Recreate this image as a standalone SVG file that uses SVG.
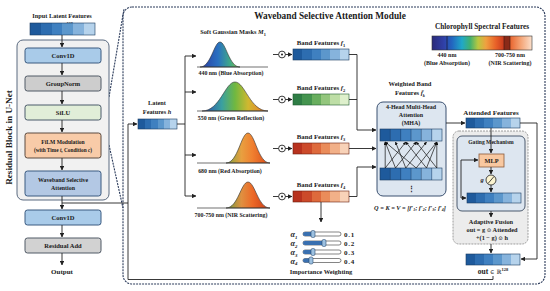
<svg xmlns="http://www.w3.org/2000/svg" width="550" height="291" viewBox="0 0 550 291">
<defs>
<style>
.t{font-family:"Liberation Serif","Times New Roman",serif;font-weight:bold;fill:#1a1a1a;text-anchor:middle}
.i{font-style:italic}
.m{font-family:"DejaVu Serif","Liberation Serif",serif;font-weight:normal}
.c{fill:none;stroke:#222;stroke-width:0.9}
.box{stroke:#3a5a80;stroke-width:1}
.base{stroke:#333;stroke-width:0.7}
.bell{stroke:#333;stroke-width:0.6}
.bar{stroke:#1a3a60;stroke-width:0.6}
.dash{fill:none;stroke:#2a3a5a;stroke-width:1.1;stroke-dasharray:2 1}
</style>
<marker id="ar" viewBox="0 0 10 10" refX="9" refY="5" markerWidth="4.5" markerHeight="4.5" orient="auto" markerUnits="userSpaceOnUse"><path d="M0,0 L10,5 L0,10 z" fill="#222"/></marker>
<marker id="ars" viewBox="0 0 10 10" refX="9" refY="5" markerWidth="3.2" markerHeight="3.2" orient="auto" markerUnits="userSpaceOnUse"><path d="M0,0 L10,5 L0,10 z" fill="#111"/></marker>
<linearGradient id="gBlue">
<stop offset="0" stop-color="#1e5a9c"/><stop offset=".1667" stop-color="#1e5a9c"/>
<stop offset=".1667" stop-color="#2d6db0"/><stop offset=".3333" stop-color="#2d6db0"/>
<stop offset=".3333" stop-color="#3f80c0"/><stop offset=".5" stop-color="#3f80c0"/>
<stop offset=".5" stop-color="#5c97cc"/><stop offset=".6667" stop-color="#5c97cc"/>
<stop offset=".6667" stop-color="#86b3dc"/><stop offset=".8333" stop-color="#86b3dc"/>
<stop offset=".8333" stop-color="#b6d3ec"/><stop offset="1" stop-color="#b6d3ec"/>
</linearGradient>
<linearGradient id="gGreen">
<stop offset="0" stop-color="#2e7d45"/><stop offset=".1667" stop-color="#2e7d45"/>
<stop offset=".1667" stop-color="#44944f"/><stop offset=".3333" stop-color="#44944f"/>
<stop offset=".3333" stop-color="#68ae5e"/><stop offset=".5" stop-color="#68ae5e"/>
<stop offset=".5" stop-color="#93c67d"/><stop offset=".6667" stop-color="#93c67d"/>
<stop offset=".6667" stop-color="#bedea6"/><stop offset=".8333" stop-color="#bedea6"/>
<stop offset=".8333" stop-color="#def0cc"/><stop offset="1" stop-color="#def0cc"/>
</linearGradient>
<linearGradient id="gRed">
<stop offset="0" stop-color="#b8321e"/><stop offset=".1667" stop-color="#b8321e"/>
<stop offset=".1667" stop-color="#cc4a2a"/><stop offset=".3333" stop-color="#cc4a2a"/>
<stop offset=".3333" stop-color="#de6a3c"/><stop offset=".5" stop-color="#de6a3c"/>
<stop offset=".5" stop-color="#ea8c5a"/><stop offset=".6667" stop-color="#ea8c5a"/>
<stop offset=".6667" stop-color="#f2b088"/><stop offset=".8333" stop-color="#f2b088"/>
<stop offset=".8333" stop-color="#f8d2b8"/><stop offset="1" stop-color="#f8d2b8"/>
</linearGradient>
<linearGradient id="gSpec">
<stop offset="0" stop-color="#2a2a7a"/>
<stop offset=".12" stop-color="#3040a8"/>
<stop offset=".2" stop-color="#2266c0"/>
<stop offset=".3" stop-color="#20a8c8"/>
<stop offset=".38" stop-color="#40b070"/>
<stop offset=".46" stop-color="#b8c840"/>
<stop offset=".54" stop-color="#f0a040"/>
<stop offset=".64" stop-color="#e86028"/>
<stop offset=".72" stop-color="#c83a1e"/>
<stop offset=".72" stop-color="#8a2a18"/>
<stop offset=".78" stop-color="#8a2a18"/>
<stop offset=".78" stop-color="#e8642e"/>
<stop offset=".88" stop-color="#f4a070"/>
<stop offset="1" stop-color="#fbe0cc"/>
</linearGradient>
<linearGradient id="gG1"><stop offset="0" stop-color="#2a3aa0"/><stop offset=".45" stop-color="#2a70c0"/><stop offset=".75" stop-color="#40a888"/><stop offset="1" stop-color="#80c040"/></linearGradient>
<linearGradient id="gG2"><stop offset="0" stop-color="#2a48b0"/><stop offset=".3" stop-color="#3aa0a0"/><stop offset=".5" stop-color="#70b840"/><stop offset=".7" stop-color="#d0b830"/><stop offset="1" stop-color="#f07028"/></linearGradient>
<linearGradient id="gG3"><stop offset="0" stop-color="#7aa040"/><stop offset=".35" stop-color="#e8a040"/><stop offset=".6" stop-color="#f08030"/><stop offset="1" stop-color="#d84818"/></linearGradient>
<linearGradient id="gG4"><stop offset="0" stop-color="#6a9c40"/><stop offset=".35" stop-color="#e09040"/><stop offset=".6" stop-color="#ec6a28"/><stop offset="1" stop-color="#c83814"/></linearGradient>
</defs>

<rect width="550" height="291" fill="#ffffff"/>

<!-- Module frame -->
<g id="module-frame">
<rect x="123" y="7" width="422" height="277" rx="9" class="dash"/>
<line x1="109" y1="97" x2="124" y2="9" class="dash"/>
<line x1="109" y1="145" x2="123" y2="208" class="dash"/>
<text class="t" x="330" y="19" font-size="9.3">Waveband Selective Attention Module</text>
</g>

<!-- Left residual block -->
<g id="input-features">
<text class="t" x="62" y="18" font-size="6.3">Input Latent Features</text>
<text class="t" x="62" y="27" font-size="6.3"><tspan class="i">h</tspan> <tspan class="m" font-size="5.5">∈</tspan> <tspan class="m" font-size="5.5">ℝ</tspan><tspan font-size="4.2" dy="-2.5">128</tspan></text>
<rect x="30" y="23" width="65" height="12" fill="url(#gBlue)" class="bar"/>
</g>
<g id="residual-block">
<rect x="17" y="40" width="92" height="160" rx="6" fill="#f1f1f1" stroke="#5a6a80" stroke-width="1"/>
<text class="t" transform="translate(11.5,137.5) rotate(-90)" font-size="9.2">Residual Block in U-Net</text>
</g>
<g id="conv1d-a"><rect x="25" y="48" width="76" height="15" rx="2.5" fill="#a9cbe9" class="box"/><text class="t" x="63" y="58" font-size="6.5">Conv1D</text></g>
<g id="groupnorm"><rect x="25" y="76" width="76" height="15" rx="2.5" fill="#cdcdcd" stroke="#505a66" stroke-width="1"/><text class="t" x="63" y="86" font-size="6.5">GroupNorm</text></g>
<g id="silu"><rect x="25" y="105" width="76" height="15" rx="2.5" fill="#e1eed8" stroke="#4a5a6a" stroke-width="1"/><text class="t" x="63" y="115" font-size="6.5">SiLU</text></g>
<g id="film"><rect x="25" y="133" width="76" height="25" rx="2.5" fill="#f8cba8" stroke="#5a4a40" stroke-width="1"/><text class="t" x="63" y="144" font-size="5.6">FiLM Modulation</text><text class="t" x="63" y="152" font-size="5.3">(with Time <tspan class="i">t</tspan>, Condition <tspan class="i">c</tspan>)</text></g>
<g id="wsa"><rect x="25" y="171" width="76" height="25" rx="2.5" fill="#b3c8e4" class="box"/><text class="t" x="63" y="182" font-size="5.9" fill="#1a2a4a">Waveband Selective</text><text class="t" x="63" y="190" font-size="5.9" fill="#1a2a4a">Attention</text></g>
<g id="conv1d-b"><rect x="25" y="210" width="76" height="15" rx="2.5" fill="#a9cbe9" class="box"/><text class="t" x="63" y="220" font-size="6.5">Conv1D</text></g>
<g id="residual-add"><rect x="25" y="238" width="76" height="15" rx="2.5" fill="#d2d2d2" stroke="#505a66" stroke-width="1"/><text class="t" x="63" y="248" font-size="6.5">Residual Add</text></g>
<g id="output"><text class="t" x="62" y="274" font-size="7">Output</text></g>

<!-- Spectrum legend -->
<g id="spectrum">
<text class="t" x="482" y="29" font-size="7.3">Chlorophyll Spectral Features</text>
<rect x="432" y="36" width="100" height="14" fill="url(#gSpec)" stroke="#333" stroke-width="0.6"/>
<line x1="447" y1="36" x2="447" y2="50" stroke="#1a1a3a" stroke-width="0.8"/>
<line x1="504" y1="36" x2="504" y2="50" stroke="#3a1a10" stroke-width="0.6"/>
<line x1="510" y1="36" x2="510" y2="50" stroke="#3a1a10" stroke-width="0.6"/>
<text class="t" x="447" y="57" font-size="6">440 nm</text>
<text class="t" x="447" y="65" font-size="6">(Blue Absorption)</text>
<text class="t" x="510" y="57" font-size="6">700-750 nm</text>
<text class="t" x="510" y="65" font-size="6">(NIR Scattering)</text>
</g>

<!-- Latent features -->
<g id="latent">
<text class="t" x="157" y="105" font-size="6.3">Latent</text>
<text class="t" x="157" y="114" font-size="6.3">Features <tspan class="i">h</tspan></text>
<rect x="138" y="119" width="39" height="10" fill="url(#gBlue)" class="bar"/>
</g>

<!-- Gaussian masks -->
<g id="masks-title"><text class="t" x="233" y="34" font-size="6.3">Soft Gaussian Masks <tspan class="i">M</tspan><tspan font-size="4.3" dy="1.5">1</tspan></text></g>
<g id="mask-440">
<path d="M200,67 C211,67 214,42 220,42 C226,42 229,67 240,67 Z" fill="url(#gG1)" class="bell"/>
<line x1="197" y1="67" x2="268" y2="67" class="base"/>
<text class="t" x="231" y="75" font-size="5.9">440 nm (Blue Absorption)</text>
</g>
<g id="mask-550">
<path d="M202,111 C220,111 225,82 235,82 C245,82 250,111 268,111 Z" fill="url(#gG2)" class="bell"/>
<line x1="197" y1="111" x2="268" y2="111" class="base"/>
<text class="t" x="231" y="120" font-size="5.9">550 nm (Green Reflection)</text>
</g>
<g id="mask-680">
<path d="M226,163 C238,163 241,133 248,133 C255,133 258,163 270,163 Z" fill="url(#gG3)" class="bell"/>
<line x1="197" y1="163" x2="270" y2="163" class="base"/>
<text class="t" x="230" y="173" font-size="5.9">680 nm (Red Absorption)</text>
</g>
<g id="mask-700">
<path d="M226,208 C238,208 241,182 248,182 C255,182 258,208 270,208 Z" fill="url(#gG4)" class="bell"/>
<line x1="197" y1="208" x2="270" y2="208" class="base"/>
<text class="t" x="231" y="217" font-size="5.9">700-750 nm (NIR Scattering)</text>
</g>

<!-- Element-wise product circles -->
<g id="odot-1"><circle cx="282" cy="54.5" r="3.4" fill="#fff" stroke="#222" stroke-width="0.9"/><circle cx="282" cy="54.5" r="1" fill="#222"/></g>
<g id="odot-2"><circle cx="282" cy="99.5" r="3.4" fill="#fff" stroke="#222" stroke-width="0.9"/><circle cx="282" cy="99.5" r="1" fill="#222"/></g>
<g id="odot-3"><circle cx="282" cy="148.5" r="3.4" fill="#fff" stroke="#222" stroke-width="0.9"/><circle cx="282" cy="148.5" r="1" fill="#222"/></g>
<g id="odot-4"><circle cx="282" cy="196.5" r="3.4" fill="#fff" stroke="#222" stroke-width="0.9"/><circle cx="282" cy="196.5" r="1" fill="#222"/></g>

<!-- Band features -->
<g id="band-f1"><text class="t" x="321" y="45" font-size="6.8">Band Features <tspan class="i">f</tspan><tspan font-size="4.5" dy="1.5">1</tspan></text><rect x="293" y="49" width="56" height="11" fill="url(#gBlue)" class="bar"/></g>
<g id="band-f2"><text class="t" x="321" y="90" font-size="6.8">Band Features <tspan class="i">f</tspan><tspan font-size="4.5" dy="1.5">2</tspan></text><rect x="293" y="94" width="56" height="11" fill="url(#gGreen)" stroke="#1e5a30" stroke-width="0.6"/></g>
<g id="band-f3"><text class="t" x="321" y="139" font-size="6.8">Band Features <tspan class="i">f</tspan><tspan font-size="4.5" dy="1.5">3</tspan></text><rect x="293" y="143" width="56" height="11" fill="url(#gRed)" stroke="#6a2010" stroke-width="0.6"/></g>
<g id="band-f4"><text class="t" x="321" y="187" font-size="6.8">Band Features <tspan class="i">f</tspan><tspan font-size="4.5" dy="1.5">4</tspan></text><rect x="293" y="191" width="56" height="11" fill="url(#gRed)" stroke="#6a2010" stroke-width="0.6"/></g>

<!-- Importance weighting -->
<g id="importance">
<text class="t i" x="294" y="237" font-size="8">α<tspan font-size="4.8" dy="1.5">1</tspan></text>
<text class="t i" x="294" y="246" font-size="8">α<tspan font-size="4.8" dy="1.5">2</tspan></text>
<text class="t i" x="294" y="255" font-size="8">α<tspan font-size="4.8" dy="1.5">3</tspan></text>
<text class="t i" x="294" y="263.5" font-size="8">α<tspan font-size="4.8" dy="1.5">4</tspan></text>
<rect x="303" y="232" width="38" height="4" rx="2" fill="#fff" stroke="#333" stroke-width="0.6"/>
<rect x="303" y="232" width="10" height="4" rx="2" fill="#3a70b0"/>
<rect x="311" y="230.5" width="4" height="7" rx="1.5" fill="#9cc0e0" stroke="#2a4a70" stroke-width="0.6"/>
<rect x="303" y="241" width="38" height="4" rx="2" fill="#fff" stroke="#333" stroke-width="0.6"/>
<rect x="303" y="241" width="21" height="4" rx="2" fill="#3a70b0"/>
<rect x="322" y="239.5" width="4" height="7" rx="1.5" fill="#9cc0e0" stroke="#2a4a70" stroke-width="0.6"/>
<rect x="303" y="250" width="38" height="4" rx="2" fill="#fff" stroke="#333" stroke-width="0.6"/>
<rect x="303" y="250" width="10" height="4" rx="2" fill="#3a70b0"/>
<rect x="311" y="248.5" width="4" height="7" rx="1.5" fill="#9cc0e0" stroke="#2a4a70" stroke-width="0.6"/>
<rect x="303" y="258.5" width="38" height="4" rx="2" fill="#fff" stroke="#333" stroke-width="0.6"/>
<rect x="303" y="258.5" width="8" height="4" rx="2" fill="#3a70b0"/>
<rect x="309" y="257" width="4" height="7" rx="1.5" fill="#9cc0e0" stroke="#2a4a70" stroke-width="0.6"/>
<text class="t" x="344" y="237" font-size="7" letter-spacing="0.8" style="text-anchor:start">0.1</text>
<text class="t" x="344" y="246" font-size="7" letter-spacing="0.8" style="text-anchor:start">0.2</text>
<text class="t" x="344" y="255" font-size="7" letter-spacing="0.8" style="text-anchor:start">0.3</text>
<text class="t" x="344" y="263.5" font-size="7" letter-spacing="0.8" style="text-anchor:start">0.4</text>
<text class="t" x="321" y="274" font-size="6.5">Importance Weighting</text>
</g>

<!-- MHA -->
<g id="mha">
<text class="t" x="410" y="86" font-size="6.5">Weighted Band</text>
<text class="t" x="410" y="95" font-size="6.5">Features <tspan class="i">f̃</tspan><tspan class="i" font-size="4.3" dy="1.5">k</tspan></text>
<rect x="377" y="102" width="69" height="94" rx="6" fill="#dde6f0" stroke="#3a5070" stroke-width="1"/>
<text class="t" x="411" y="109" font-size="6">4-Head Multi-Head</text>
<text class="t" x="411" y="117" font-size="6">Attention</text>
<text class="t" x="411" y="125" font-size="6">(MHA)</text>
<rect x="380" y="129" width="62" height="12" fill="url(#gBlue)" class="bar"/>
<path d="M390.3,129V141M400.7,129V141M411,129V141M421.3,129V141M431.7,129V141" stroke="#1a3a60" stroke-width="0.5"/>
<rect x="380" y="168" width="62" height="12" fill="url(#gBlue)" class="bar"/>
<path d="M390.3,168V180M400.7,168V180M411,168V180M421.3,168V180M431.7,168V180" stroke="#1a3a60" stroke-width="0.5"/>
<g stroke="#111" stroke-width="0.7" marker-end="url(#ars)">
<line x1="385.2" y1="168" x2="385.2" y2="142"/>
<line x1="385.2" y1="168" x2="405.8" y2="142"/>
<line x1="395.5" y1="168" x2="385.2" y2="142"/>
<line x1="395.5" y1="168" x2="416.2" y2="142"/>
<line x1="405.8" y1="168" x2="395.5" y2="142"/>
<line x1="405.8" y1="168" x2="426.5" y2="142"/>
<line x1="416.2" y1="168" x2="385.2" y2="142"/>
<line x1="416.2" y1="168" x2="436.8" y2="142"/>
<line x1="426.5" y1="168" x2="405.8" y2="142"/>
<line x1="426.5" y1="168" x2="436.8" y2="142"/>
<line x1="436.8" y1="168" x2="416.2" y2="142"/>
<line x1="436.8" y1="168" x2="436.8" y2="142"/>
</g>
<text class="t" x="411" y="191" font-size="7">⋮</text>
<text class="t i" x="410" y="210" font-size="6.3">Q = K = V = [f′<tspan font-size="4" dy="1.2">1</tspan><tspan dy="-1.2">; f′</tspan><tspan font-size="4" dy="1.2">2</tspan><tspan dy="-1.2">; f′</tspan><tspan font-size="4" dy="1.2">3</tspan><tspan dy="-1.2">; f′</tspan><tspan font-size="4" dy="1.2">4</tspan><tspan dy="-1.2">]</tspan></text>
</g>

<!-- Attended features and gating -->
<g id="attended">
<text class="t" x="491" y="115" font-size="7">Attended Features</text>
<rect x="466" y="118" width="54" height="10" fill="url(#gBlue)" class="bar"/>
</g>
<g id="gating">
<rect x="453" y="131" width="75" height="113" rx="6" fill="#ececec" stroke="#888" stroke-width="0.8" stroke-dasharray="2 1"/>
<rect x="457" y="136" width="68" height="75" rx="5" fill="#dde6f0" stroke="#3a4a60" stroke-width="0.9"/>
<text class="t" x="491" y="144" font-size="5.6">Gating Mechanism</text>
<rect x="479" y="154" width="25" height="13" fill="#f8c8a0" stroke="#8a5a3a" stroke-width="0.8"/>
<text class="t" x="491.5" y="163" font-size="6.3">MLP</text>
<circle cx="491" cy="180" r="5" fill="#fbf4d0" stroke="#333" stroke-width="0.9"/>
<line x1="488" y1="183.5" x2="494" y2="176.5" stroke="#333" stroke-width="0.9"/>
<text class="t i" x="482" y="182" font-size="6.5">g</text>
<rect x="467" y="193" width="54" height="10" fill="url(#gBlue)" class="bar"/>
<text class="t" x="491" y="224" font-size="6.3">Adaptive Fusion</text>
<text class="t" x="492" y="232" font-size="6.3">out = g <tspan class="m" font-size="5.5">⊙</tspan> Attended</text>
<text class="t" x="492" y="239.5" font-size="6.3">+(1 − g) <tspan class="m" font-size="5.5">⊙</tspan> h</text>
</g>
<g id="out">
<rect x="466" y="254" width="54" height="11" fill="url(#gBlue)" class="bar"/>
<text class="t" x="493" y="274" font-size="7.5">out <tspan class="m" font-size="6">∈</tspan> <tspan class="m" font-size="6">ℝ</tspan><tspan font-size="4.5" dy="-3">128</tspan></text>
</g>

<!-- Connectors -->
<g id="connectors">
<path class="c" d="M62,35V47" marker-end="url(#ar)"/>
<path class="c" d="M62,63V75" marker-end="url(#ar)"/>
<path class="c" d="M62,91V104" marker-end="url(#ar)"/>
<path class="c" d="M62,120V132" marker-end="url(#ar)"/>
<path class="c" d="M62,158V170" marker-end="url(#ar)"/>
<path class="c" d="M62,196V209" marker-end="url(#ar)"/>
<path class="c" d="M62,225V237" marker-end="url(#ar)"/>
<path class="c" d="M62,253V265" marker-end="url(#ar)"/>
<path class="c" d="M62,203H128V124H137" stroke="#333" stroke-width="1.1" marker-end="url(#ar)"/>
<path class="c" d="M128,203V279.5H493V276" stroke="#444" stroke-width="1.2"/>
<path class="c" d="M177,124H185"/>
<path class="c" d="M185,56V196"/>
<path class="c" d="M185,56H196" marker-end="url(#ar)"/>
<path class="c" d="M185,92H196" marker-end="url(#ar)"/>
<path class="c" d="M185,155H196" marker-end="url(#ar)"/>
<path class="c" d="M185,196H196" marker-end="url(#ar)"/>
<path class="c" d="M273,54.5H278.6"/>
<path class="c" d="M273,99.5H278.6"/>
<path class="c" d="M273,148.5H278.6"/>
<path class="c" d="M273,196.5H278.6"/>
<path class="c" d="M285.4,54.5H292" marker-end="url(#ar)"/>
<path class="c" d="M285.4,99.5H292" marker-end="url(#ar)"/>
<path class="c" d="M285.4,148.5H292" marker-end="url(#ar)"/>
<path class="c" d="M285.4,196.5H292" marker-end="url(#ar)"/>
<path class="c" d="M349,54.5H357V130H376" marker-end="url(#ar)"/>
<path class="c" d="M349,99.5H357"/>
<path class="c" d="M349,148.5H376" marker-end="url(#ar)"/>
<path class="c" d="M349,196.5H357V167H376" marker-end="url(#ar)"/>
<path class="c" d="M321,202V222" marker-end="url(#ar)"/>
<path class="c" d="M446,123H465" marker-end="url(#ar)"/>
<path class="c" d="M520,123H537V259H521" stroke="#3a4a60" marker-end="url(#ar)"/>
<path class="c" d="M491,128V153" marker-end="url(#ar)"/>
<path class="c" d="M491,167V174" marker-end="url(#ar)"/>
<path class="c" d="M491,185V192" marker-end="url(#ar)"/>
<path class="c" d="M461,180V160H478" marker-end="url(#ar)"/>
<path class="c" d="M461,180V198H466" marker-end="url(#ar)"/>
<path class="c" d="M491,211V217" marker-end="url(#ar)"/>
<path class="c" d="M491,244V253" marker-end="url(#ar)"/>
</g>
</svg>
